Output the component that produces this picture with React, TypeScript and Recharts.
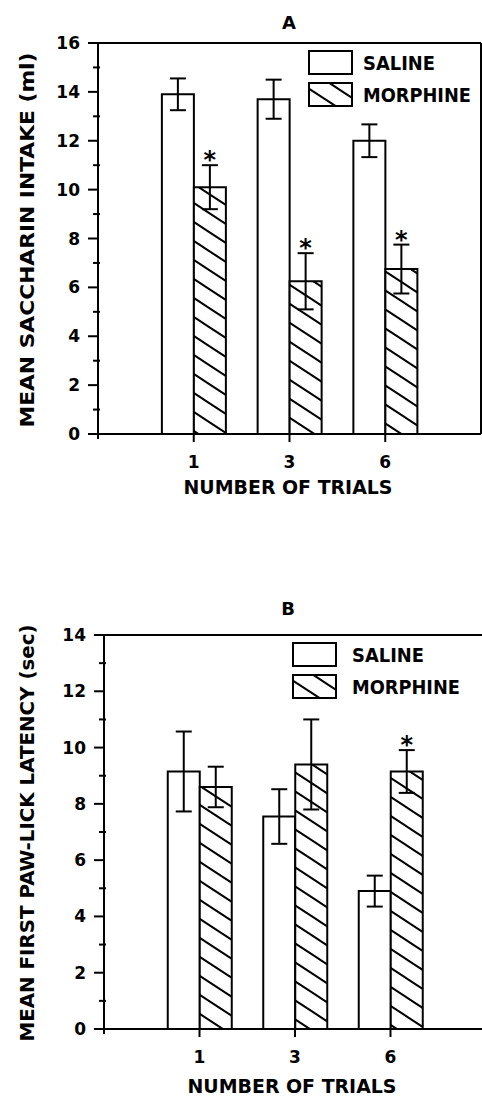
import React from 'react';
import { BarChart, Bar, XAxis, YAxis, ErrorBar, LabelList, ReferenceLine } from 'recharts';

// trial groups
const trials = ['1', '3', '6'];

// panel A: saccharin intake (ml)
const intakeSaline = [13.9, 13.7, 12.0];
const intakeSalineErr = [0.65, 0.8, 0.67];
const intakeMorphine = [10.1, 6.25, 6.75];
const intakeMorphineErr = [0.9, 1.15, 1.0];
const intakeSig = [true, true, true];
const intakeTicks = [0, 1, 2, 3, 4, 5, 6, 7, 8, 9, 10, 11, 12, 13, 14, 15, 16];

// panel B: first paw-lick latency (sec)
const latencySaline = [9.15, 7.55, 4.9];
const latencySalineErr = [1.42, 0.97, 0.55];
const latencyMorphine = [8.6, 9.4, 9.15];
const latencyMorphineErr = [0.72, 1.6, 0.76];
const latencySig = [false, false, true];
const latencyTicks = [0, 1, 2, 3, 4, 5, 6, 7, 8, 9, 10, 11, 12, 13, 14];

const legendNames = ['SALINE', 'MORPHINE'];

const FONT = '"DejaVu Sans", sans-serif';

const build = (sal: number[], salErr: number[], mor: number[], morErr: number[], sig: boolean[]) =>
  trials.map((t, i) => ({
    pos: i + 1,
    trial: t,
    saline: sal[i],
    salineErr: salErr[i],
    morphine: mor[i],
    morphineErr: morErr[i],
    sig: sig[i],
  }));

const YTick = (props: any) => {
  const { x, y, payload } = props;
  const major = payload.value % 2 === 0;
  return (
    <g>
      <line x1={major ? x - 10 : x - 5} x2={major ? x : x + 2} y1={y} y2={y} stroke="#000" strokeWidth={2} />
      {major && (
        <text x={x - 18} y={y} textAnchor="end" dominantBaseline="central" fontFamily={FONT} fontWeight="bold" fontSize={17} fill="#000">
          {payload.value}
        </text>
      )}
    </g>
  );
};

const XTick = (props: any) => {
  const { x, y, payload } = props;
  const label = trials[payload.value - 1];
  if (!label) {
    return <line x1={x} x2={x} y1={y - 3} y2={y + 5} stroke="#000" strokeWidth={2} />;
  }
  return (
    <g>
      <line x1={x} x2={x} y1={y} y2={y + 8} stroke="#000" strokeWidth={2} />
      <text x={x} y={y + 28} textAnchor="middle" dominantBaseline="central" fontFamily={FONT} fontWeight="bold" fontSize={17} fill="#000">
        {label}
      </text>
    </g>
  );
};

const Star = (dataSig: boolean[], dataErr: number[]) => (props: any) => {
  const { x, y, width, height, value, index } = props;
  if (!dataSig[index]) return null;
  const top = y - (dataErr[index] * height) / value;
  return (
    <text x={x + width / 2} y={top + 3} textAnchor="middle" fontFamily={FONT} fontWeight="bold" fontSize={24} fill="#000">
      *
    </text>
  );
};

const LegendBox = ({ left, top, textX }: { left: number; top: number; textX: number }) => (
  <g transform={`translate(${left}, ${top})`}>
    <rect x={1} y={1} width={43} height={23} fill="#fff" stroke="#000" strokeWidth={2} />
    <rect x={1} y={33} width={43} height={23} fill="url(#hatch)" stroke="#000" strokeWidth={2} />
    <text x={textX} y={13} dominantBaseline="central" fontFamily={FONT} fontWeight="bold" fontSize={19} textLength={72} lengthAdjust="spacingAndGlyphs">
      {legendNames[0]}
    </text>
    <text x={textX} y={45} dominantBaseline="central" fontFamily={FONT} fontWeight="bold" fontSize={19} textLength={108} lengthAdjust="spacingAndGlyphs">
      {legendNames[1]}
    </text>
  </g>
);

const Hatch = () => (
  <defs>
    <pattern id="hatch" patternUnits="userSpaceOnUse" width={29} height={19}>
      <rect width={29} height={19} fill="#fff" />
      <line x1={0} y1={0} x2={29} y2={19} stroke="#000" strokeWidth={2} />
      <line x1={0} y1={-19} x2={58} y2={19} stroke="#000" strokeWidth={2} />
      <line x1={-29} y1={0} x2={29} y2={38} stroke="#000" strokeWidth={2} />
    </pattern>
  </defs>
);

interface PanelProps {
  title: string;
  yLabel: string;
  yLabelLen: number;
  data: any[];
  ticks: number[];
  max: number;
  width: number;
  height: number;
  margin: { top: number; right: number; bottom: number; left: number };
  yWidth: number;
  xHeight: number;
  titleX: number;
  titleY: number;
  yLabelY: number;
  xLabelX: number;
  xLabelY: number;
  legendLeft: number;
  legendTop: number;
  legendTextX: number;
  sig: boolean[];
  morErr: number[];
}

const Panel = (p: PanelProps) => (
  <BarChart width={p.width} height={p.height} data={p.data} margin={p.margin} barSize={32} barGap={0}>
    <Hatch />
    <XAxis
      dataKey="pos"
      type="number"
      domain={[0, 4]}
      ticks={[0, 1, 2, 3]}
      height={p.xHeight}
      tickSize={0}
      tickMargin={0}
      tickLine={false}
      axisLine={{ stroke: '#000', strokeWidth: 2 }}
      tick={<XTick />}
      interval={0}
    />
    <YAxis
      type="number"
      domain={[0, p.max]}
      ticks={p.ticks}
      width={p.yWidth}
      tickSize={0}
      tickMargin={0}
      tickLine={false}
      axisLine={{ stroke: '#000', strokeWidth: 2 }}
      tick={<YTick />}
      interval={0}
    />
    <ReferenceLine y={p.max} stroke="#000" strokeWidth={2} />
    <ReferenceLine x={4} stroke="#000" strokeWidth={2} />
    <Bar dataKey="saline" fill="#fff" stroke="#000" strokeWidth={2} isAnimationActive={false}>
      <ErrorBar dataKey="salineErr" width={8} stroke="#000" strokeWidth={2} direction="y" />
    </Bar>
    <Bar dataKey="morphine" fill="url(#hatch)" stroke="#000" strokeWidth={2} isAnimationActive={false}>
      <ErrorBar dataKey="morphineErr" width={8} stroke="#000" strokeWidth={2} direction="y" />
      <LabelList dataKey="morphine" content={Star(p.sig, p.morErr)} />
    </Bar>
    <LegendBox left={p.legendLeft} top={p.legendTop} textX={p.legendTextX} />
    <text x={p.titleX} y={p.titleY} textAnchor="middle" dominantBaseline="central" fontFamily={FONT} fontWeight="bold" fontSize={18}>
      {p.title}
    </text>
    <text
      x={27}
      y={p.yLabelY}
      transform={`rotate(-90, 27, ${p.yLabelY})`}
      textAnchor="middle"
      dominantBaseline="central"
      fontFamily={FONT}
      fontWeight="bold"
      fontSize={20}
      textLength={p.yLabelLen}
      lengthAdjust="spacingAndGlyphs"
    >
      {p.yLabel}
    </text>
    <text
      x={p.xLabelX}
      y={p.xLabelY}
      textAnchor="middle"
      dominantBaseline="central"
      fontFamily={FONT}
      fontWeight="bold"
      fontSize={19}
      textLength={209}
      lengthAdjust="spacingAndGlyphs"
    >
      NUMBER OF TRIALS
    </text>
  </BarChart>
);

export default function App() {
  const dataA = build(intakeSaline, intakeSalineErr, intakeMorphine, intakeMorphineErr, intakeSig);
  const dataB = build(latencySaline, latencySalineErr, latencyMorphine, latencyMorphineErr, latencySig);
  return (
    <div style={{ position: 'absolute', left: 0, top: 0, width: 482, height: 1096, overflow: 'hidden', background: '#fff' }}>
      <div style={{ position: 'absolute', left: 0, top: 0 }}>
        <Panel
          title="A"
          yLabel="MEAN SACCHARIN INTAKE (ml)"
          yLabelLen={375}
          data={dataA}
          ticks={intakeTicks}
          max={16}
          width={482}
          height={504}
          margin={{ top: 43, right: 1, bottom: 0, left: 0 }}
          yWidth={98}
          xHeight={70}
          titleX={289}
          titleY={22}
          yLabelY={240}
          xLabelX={288}
          xLabelY={487}
          legendLeft={308}
          legendTop={50}
          legendTextX={55}
          sig={intakeSig}
          morErr={intakeMorphineErr}
        />
      </div>
      <div style={{ position: 'absolute', left: 0, top: 560 }}>
        <Panel
          title="B"
          yLabel="MEAN FIRST PAW-LICK LATENCY (sec)"
          yLabelLen={417}
          data={dataB}
          ticks={latencyTicks}
          max={14}
          width={487}
          height={536}
          margin={{ top: 75, right: 1, bottom: 0, left: 0 }}
          yWidth={104}
          xHeight={67}
          titleX={288}
          titleY={48}
          yLabelY={273}
          xLabelX={292}
          xLabelY={526}
          legendLeft={292}
          legendTop={82}
          legendTextX={60}
          sig={latencySig}
          morErr={latencyMorphineErr}
        />
      </div>
    </div>
  );
}
